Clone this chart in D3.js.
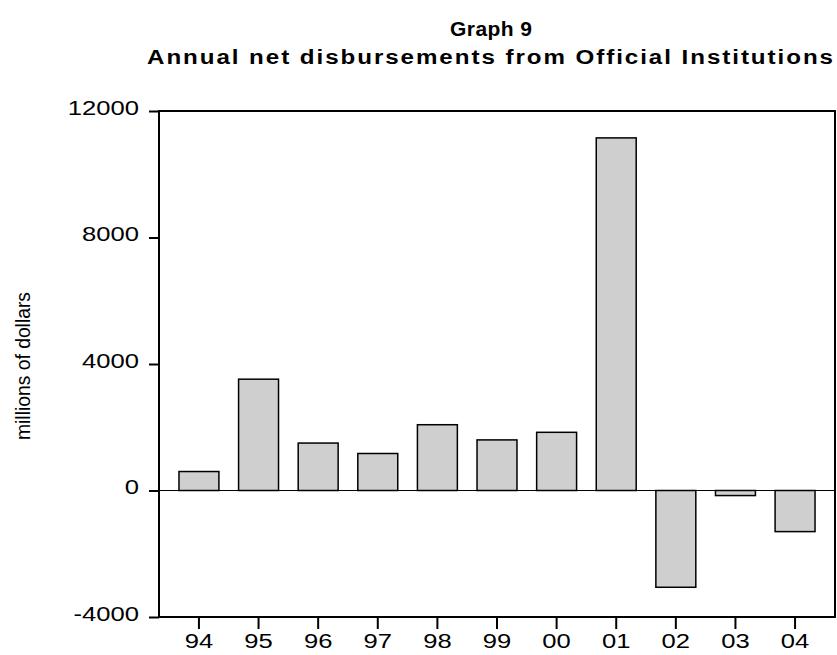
<!DOCTYPE html>
<html>
<head>
<meta charset="utf-8">
<script src="https://cdn.jsdelivr.net/npm/d3@7"></script>
<style>
  html, body { margin: 0; padding: 0; background: #fff; }
  svg { display: block; }
  text { font-family: "Liberation Sans", Arial, sans-serif; fill: #000; }
</style>
</head>
<body>
<svg id="chart" width="837" height="655"></svg>
<script>
// Data
const categories = ["94", "95", "96", "97", "98", "99", "00", "01", "02", "03", "04"];
const values = [600, 3520, 1500, 1170, 2080, 1600, 1840, 11150, -3060, -160, -1300];
const yTicks = [-4000, 0, 4000, 8000, 12000];
const titleLine1 = "Graph 9";
const titleLine2 = "Annual net disbursements from Official Institutions";
const yAxisTitle = "millions of dollars";

(function() {
const svg = d3.select("#chart");
const pLeft = 159, pRight = 835, pTop = 111, pBottom = 617;
const stretch = 1.28;

const x = d3.scaleBand().domain(categories).range([pLeft, pRight])
  .paddingInner(0.33).paddingOuter(0.335);
const y = d3.scaleLinear().domain([-4000, 12000]).range([pBottom, pTop]);

// Bars
svg.append("g").selectAll("rect").data(values).join("rect")
  .attr("x", (d, i) => x(categories[i]))
  .attr("width", x.bandwidth())
  .attr("y", d => y(Math.max(0, d)))
  .attr("height", d => Math.abs(y(d) - y(0)))
  .attr("fill", "#cfcfcf")
  .attr("stroke", "#000")
  .attr("stroke-width", 1.5);

// Zero line
svg.append("line")
  .attr("x1", pLeft).attr("x2", pRight)
  .attr("y1", y(0)).attr("y2", y(0))
  .attr("stroke", "#000").attr("stroke-width", 1);

// Frame
svg.append("rect")
  .attr("x", pLeft).attr("y", pTop)
  .attr("width", pRight - pLeft).attr("height", pBottom - pTop)
  .attr("fill", "none").attr("stroke", "#000").attr("stroke-width", 2);

// Y axis
const yAxis = d3.axisLeft(y).tickValues(yTicks).tickSize(10).tickPadding(10)
  .tickFormat(d => String(d));
const gy = svg.append("g").attr("transform", `translate(${pLeft},0)`).call(yAxis);
gy.select(".domain").remove();
gy.selectAll(".tick line").attr("stroke", "#000").attr("stroke-width", 2);
gy.selectAll(".tick text")
  .attr("font-size", 20)
  .attr("font-family", "Liberation Sans, Arial, sans-serif")
  .attr("dy", null)
  .attr("y", 0)
  .each(function() {
    const t = d3.select(this);
    const xx = +t.attr("x");
    t.attr("x", null).attr("transform", `translate(${xx},3) scale(${stretch},1)`);
  })
  .attr("fill", "#000");

// X axis
const xAxis = d3.axisBottom(x).tickSize(12).tickPadding(0);
const gx = svg.append("g").attr("transform", `translate(0,${pBottom})`).call(xAxis);
gx.select(".domain").remove();
gx.selectAll(".tick line").attr("stroke", "#000").attr("stroke-width", 2);
gx.selectAll(".tick text")
  .attr("font-size", 20)
  .attr("font-family", "Liberation Sans, Arial, sans-serif")
  .attr("dy", null)
  .attr("y", null)
  .attr("transform", `translate(0,31) scale(${stretch},1)`)
  .attr("fill", "#000");

// Titles: slightly widened glyphs plus letter spacing to match widths
function fitTitle(txt, cx, by, target, sx) {
  svg.append("text")
    .attr("transform", `translate(${cx},${by}) scale(${sx},1)`)
    .attr("text-anchor", "middle")
    .attr("font-size", 21).attr("font-weight", "bold")
    .attr("textLength", target / sx).attr("lengthAdjust", "spacing")
    .text(txt);
}
fitTitle(titleLine1, 491, 36, 82, 1.0);
fitTitle(titleLine2, 490, 64, 686, 1.15);

// Y axis title
svg.append("text")
  .attr("transform", "translate(30,366) rotate(-90)")
  .attr("text-anchor", "middle")
  .attr("font-size", 20)
  .attr("textLength", 148).attr("lengthAdjust", "spacingAndGlyphs")
  .text(yAxisTitle);
})();
</script>
</body>
</html>
